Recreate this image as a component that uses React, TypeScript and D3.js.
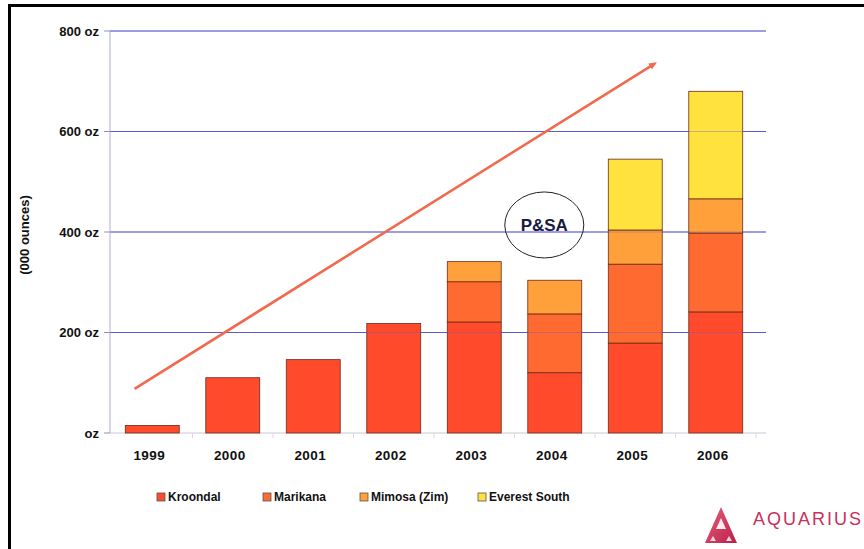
import React from "react";
import * as d3 from "d3";

const years = ["1999", "2000", "2001", "2002", "2003", "2004", "2005", "2006"];
const seriesNames = ["Kroondal", "Marikana", "Mimosa (Zim)", "Everest South"];
const kroondal = [15, 110, 146, 218, 221, 120, 179, 241];
const marikana = [0, 0, 0, 0, 80, 117, 157, 157];
const mimosa = [0, 0, 0, 0, 40, 67, 68, 68];
const everest = [0, 0, 0, 0, 0, 0, 141, 214];
const yTicks = [0, 200, 400, 600, 800];
const yTickLabels = ["oz", "200 oz", "400 oz", "600 oz", "800 oz"];
const colors = ["#ff4a2c", "#ff6a30", "#ffa03a", "#ffe23e"];
const trendIdx = [-0.22, 6.27];
const trendVal = [88, 738];
const bubble = { idx: 4.87, val: 414, label: "P&SA" };

const W = 864;
const H = 549;
const x0 = 112;
const band = 80.5;
const yTop = 31;
const yBot = 433;

export default function App() {
  const x = d3.scaleBand<string>().domain(years).range([x0, x0 + band * years.length]).paddingInner(0.33).paddingOuter(0.165);
  const y = d3.scaleLinear().domain([0, 800]).range([yBot, yTop]);
  const idxScale = d3.scaleLinear().domain([0, 1]).range([x(years[0])! + x.bandwidth() / 2, x(years[1])! + x.bandwidth() / 2]);

  const rows = years.map((yr, i) => ({ yr, Kroondal: kroondal[i], Marikana: marikana[i], "Mimosa (Zim)": mimosa[i], "Everest South": everest[i] }));
  const stack = d3.stack<any>().keys(seriesNames)(rows);

  const font = "'Liberation Sans', Arial, sans-serif";
  const tx1 = idxScale(trendIdx[0]);
  const ty1 = y(trendVal[0]);
  const tx2 = idxScale(trendIdx[1]);
  const ty2 = y(trendVal[1]);
  const ang = Math.atan2(ty2 - ty1, tx2 - tx1);
  const ah = 8;
  const arrowPts = [
    [tx2, ty2],
    [tx2 - ah * Math.cos(ang) + 3.5 * Math.sin(ang), ty2 - ah * Math.sin(ang) - 3.5 * Math.cos(ang)],
    [tx2 - ah * Math.cos(ang) - 3.5 * Math.sin(ang), ty2 - ah * Math.sin(ang) + 3.5 * Math.cos(ang)],
  ];

  const legendX = [157, 263, 360, 478];
  const xEnd = 766;

  return (
    <svg width={W} height={H} style={{ position: "absolute", left: 0, top: 0, background: "#fff" }} fontFamily={font}>
      <rect x={0} y={0} width={W} height={H} fill="#fff" />
      {/* frame */}
      <line x1={9} y1={5.5} x2={W} y2={5.5} stroke="#000" strokeWidth={3} />
      <line x1={9.5} y1={4} x2={9.5} y2={H} stroke="#000" strokeWidth={3} />

      {/* gridlines */}
      {yTicks.filter((t) => t > 0).map((t) => (
        <line key={t} x1={110} x2={xEnd} y1={y(t)} y2={y(t)} stroke="#5a5ad6" strokeWidth={1.2} />
      ))}
      {/* axes */}
      <line x1={110} x2={110} y1={yTop} y2={yBot} stroke="#b0b0cc" strokeWidth={1} />
      <line x1={110} x2={xEnd} y1={yBot} y2={yBot} stroke="#c8c8d4" strokeWidth={1} />
      {yTicks.map((t, i) => (
        <g key={t}>
          <line x1={104} x2={110} y1={y(t)} y2={y(t)} stroke="#9090bb" />
          <text x={99} y={y(t)} dy="0.35em" textAnchor="end" fontSize={13} fontWeight="bold" fill="#111">{yTickLabels[i]}</text>
        </g>
      ))}
      {years.map((yr, i) => (
        <line key={yr} x1={x0 + band * (i + 1)} x2={x0 + band * (i + 1)} y1={yBot} y2={yBot + 5} stroke="#d8d8e0" />
      ))}
      <text transform={`translate(29, ${(yTop + yBot) / 2 + 3}) rotate(-90)`} textAnchor="middle" fontSize={13} fontWeight="bold" fill="#111">(000 ounces)</text>

      {/* bars */}
      {stack.map((s, si) => (
        <g key={s.key}>
          {s.map((d: any, i: number) =>
            d[1] - d[0] > 0 ? (
              <rect key={i} x={x(years[i])} width={x.bandwidth()} y={y(d[1])} height={y(d[0]) - y(d[1])} fill={colors[si]} stroke="#6a2a18" strokeWidth={0.8} />
            ) : null
          )}
        </g>
      ))}
      {/* gridlines show through bars faintly */}
      {yTicks.filter((t) => t > 0).map((t) => (
        <line key={"o" + t} x1={110} x2={xEnd} y1={y(t)} y2={y(t)} stroke="#5a5ad6" strokeWidth={1} opacity={0.35} />
      ))}

      {years.map((yr) => (
        <text key={yr} x={x(yr)! + x.bandwidth() / 2 - 3} y={460} textAnchor="middle" fontSize={13.5} fontWeight="bold" fill="#111" letterSpacing={0.4}>{yr}</text>
      ))}

      {/* trend arrow */}
      <line x1={tx1} y1={ty1} x2={tx2 - 4 * Math.cos(ang)} y2={ty2 - 4 * Math.sin(ang)} stroke="#f26a4e" strokeWidth={2.6} />
      <polygon points={arrowPts.map((p) => p.join(",")).join(" ")} fill="#f26a4e" />

      {/* P&SA bubble */}
      <ellipse cx={idxScale(bubble.idx)} cy={y(bubble.val)} rx={39.5} ry={33} fill="none" stroke="#222" strokeWidth={1} />
      <text x={idxScale(bubble.idx)} y={y(bubble.val)} dy="0.36em" textAnchor="middle" fontSize={17} fontWeight="bold" fill="#1a1a40">{bubble.label}</text>

      {/* legend */}
      {seriesNames.map((n, i) => (
        <g key={n}>
          <rect x={legendX[i]} y={493} width={8} height={8} fill={colors[i]} stroke="#555" strokeWidth={0.8} />
          <text x={legendX[i] + 11} y={497} dy="0.36em" fontSize={12} fontWeight="bold" fill="#111">{n}</text>
        </g>
      ))}

      {/* logo */}
      <defs>
        <linearGradient id="lg" x1="0" y1="0" x2="1" y2="1">
          <stop offset="0" stopColor="#e8607a" />
          <stop offset="1" stopColor="#b8204a" />
        </linearGradient>
      </defs>
      <polygon points="721,507 737,543 705,543" fill="url(#lg)" />
      <polygon points="721,518 726,529 716,529" fill="#fff" opacity={0.9} />
      <polygon points="713,536 716,541 710,541" fill="#fff" opacity={0.8} />
      <polygon points="729,536 732,541 726,541" fill="#fff" opacity={0.8} />
      <text x={753} y={525} fontSize={18} fill="#c8305e" letterSpacing={2}>AQUARIUS</text>
    </svg>
  );
}
